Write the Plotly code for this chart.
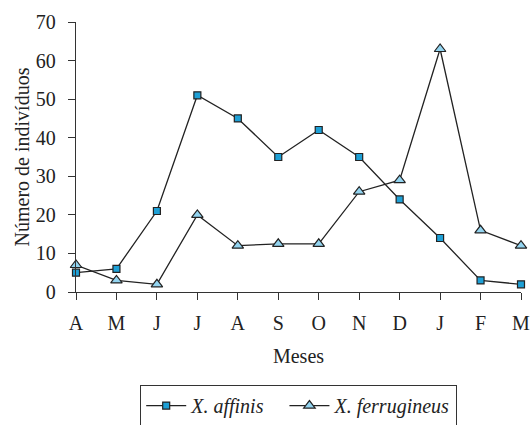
import plotly.graph_objects as go

months = ["A", "M", "J", "J", "A", "S", "O", "N", "D", "J", "F", "M"]
affinis = [5, 6, 21, 51, 45, 35, 42, 35, 24, 14, 3, 2]
ferrugineus = [7, 3, 2, 20, 12, 12.5, 12.5, 26, 29, 63, 16, 12]
xpos = list(range(len(months)))
NBSP = "\u00a0"

FONT = "Liberation Serif"
fig = go.Figure()
fig.add_trace(go.Scatter(
    x=xpos, y=affinis, name="X. affinis" + NBSP * 3, mode="lines+markers",
    line=dict(color="#222222", width=1.3),
    marker=dict(symbol="square", size=7, color="#1ea0d6",
                line=dict(color="#222222", width=1.2)),
    cliponaxis=False))
fig.add_trace(go.Scatter(
    x=xpos, y=ferrugineus, name="X. ferrugineus", mode="lines+markers",
    line=dict(color="#222222", width=1.3),
    marker=dict(symbol="triangle-up", size=10, color="#93d4f0",
                line=dict(color="#222222", width=1.2)),
    cliponaxis=False))

fig.update_layout(
    width=532, height=425,
    margin=dict(l=76, r=11, t=22, b=133, autoexpand=False),
    paper_bgcolor="white", plot_bgcolor="white",
    font=dict(family=FONT, size=20, color="#222222"),
    showlegend=True,
    legend=dict(orientation="h", x=0.5, xanchor="center",
                y=-0.344, yanchor="top",
                bordercolor="#333333", borderwidth=1.2,
                font=dict(family=FONT, size=20, style="italic"),
                itemwidth=40, tracegroupgap=0,
                bgcolor="white"),
)
fig.update_xaxes(
    range=[0, 11], tickmode="array", tickvals=xpos, ticktext=months,
    showgrid=False, zeroline=False, showline=True, linecolor="#333333", linewidth=1.3,
    ticks="outside", ticklen=7, tickcolor="#333333", tickwidth=1.3,
    ticklabelstandoff=6, automargin=False,
    title=dict(text="Meses", font=dict(size=20)),
    tickfont=dict(size=20))
fig.update_yaxes(
    range=[0, 70], dtick=10,
    showgrid=False, zeroline=False, showline=True, linecolor="#333333", linewidth=1.3,
    ticks="outside", ticklen=7, tickcolor="#333333", tickwidth=1.3,
    ticklabelstandoff=8, automargin=True,
    title=dict(text="Número de indivíduos", standoff=0, font=dict(size=20)),
    tickfont=dict(size=20))

fig.write_html(
    "out.html",
    config={"displayModeBar": False},
    post_script="document.body.style.margin='0';document.body.style.overflow='hidden';")
